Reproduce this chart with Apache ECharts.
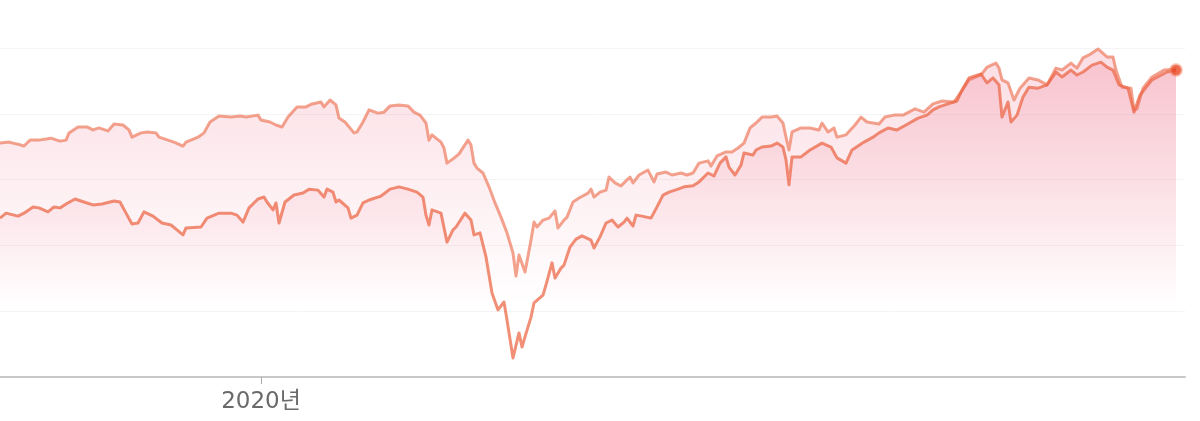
<!DOCTYPE html>
<html>
<head>
<meta charset="utf-8">
<script src="https://cdn.jsdelivr.net/npm/echarts@6/dist/echarts.min.js"></script>
<style>
html,body{margin:0;padding:0;background:#fff;}
#chart{width:1200px;height:421px;}
</style>
</head>
<body>
<div id="chart"></div>
<script>
// day offsets from 2019-10-06 and index values
const startDate = [2019, 9, 6];
const spanDays = 395;
const yearTickLabel = '2020년';

const upperDays = [0,3,7,8,10,13,17,20,22,23,26,29,31,33,36,38,41,43,44,47,49,52,53,56,58,61,62,66,68,70,73,77,80,82,86,87,90,92,94,96,99,102,104,107,108,110,112,113,115,118,119,121,123,126,128,130,133,136,138,140,142,143,144,147,148,149,151,153,156,157,158,159,161,163,165,167,169,171,172,173,175,177,178,179,181,183,185,186,188,189,191,193,196,197,198,200,202,203,205,207,209,210,211,213,216,218,219,222,224,227,229,231,233,236,237,239,242,244,246,248,250,252,254,257,259,261,262,263,264,267,270,273,274,276,278,279,282,285,287,289,293,295,298,301,305,308,311,314,318,321,323,327,329,332,333,334,336,338,340,343,346,349,352,354,357,359,361,363,366,369,371,372,374,377,378,379,381,384,388,392];
const upperValues = [71.1,71.4,70.5,70.2,72.0,72.0,72.6,71.7,72.0,74.2,76.0,76.0,75.1,75.7,74.8,76.9,76.6,75.1,72.9,74.2,74.5,74.2,72.9,72.0,71.4,70.2,71.4,72.9,74.2,77.5,79.3,79.0,79.3,79.0,79.6,78.1,77.5,76.6,76.0,79.0,82.1,82.1,83.0,83.6,82.1,84.2,82.7,78.7,77.5,74.2,74.5,77.5,81.2,80.2,80.5,82.4,82.7,82.4,80.5,79.6,77.2,72.0,73.6,71.4,69.6,65.0,66.3,67.8,72.0,70.5,65.0,63.5,62.0,57.8,52.9,48.6,43.8,37.7,30.7,37.1,31.9,41.6,47.1,45.6,47.7,48.3,50.5,45.3,47.7,48.6,53.2,54.4,55.9,57.1,54.7,56.2,56.8,60.8,59.0,58.1,59.9,60.8,59.0,61.4,62.9,59.3,61.7,62.3,61.4,62.0,61.4,62.0,65.0,65.7,64.1,67.2,68.4,68.4,69.6,71.1,75.7,77.2,79.0,79.0,79.3,77.2,72.9,69.0,74.5,75.7,75.7,75.1,77.2,74.5,75.7,72.9,73.6,76.6,79.0,77.5,76.9,79.0,79.6,79.6,81.5,80.5,83.0,83.9,83.6,87.5,90.3,91.8,94.2,95.4,93.9,90.3,89.4,84.2,87.8,90.9,90.3,88.8,93.9,93.3,95.4,93.9,97.0,97.9,99.7,97.3,97.3,93.3,88.1,87.8,81.2,81.5,87.8,91.2,93.3,93.6];

const lowerDays = [0,2,6,8,11,13,16,18,20,22,25,28,31,34,38,40,42,44,46,48,51,54,57,59,61,62,67,69,73,77,79,81,83,86,88,89,91,92,93,95,98,101,103,106,108,109,111,112,113,116,117,119,121,123,127,130,133,136,139,141,142,143,144,147,149,151,152,155,157,158,160,162,164,166,168,169,171,173,174,175,177,178,181,182,184,185,187,188,190,192,194,197,198,200,202,204,206,208,209,211,212,214,217,219,221,223,226,228,231,233,236,238,240,242,243,245,247,248,251,252,254,257,259,261,262,263,264,267,270,274,277,279,282,284,288,291,293,296,299,302,306,309,311,313,317,319,321,323,327,329,331,333,334,336,337,339,341,343,346,349,352,354,357,359,361,364,367,369,371,373,376,378,380,384,389,392];
const lowerValues = [48.3,49.8,48.9,49.8,51.7,51.4,50.2,51.7,51.4,52.6,54.1,53.2,52.3,52.6,53.5,53.2,49.8,46.5,46.8,50.2,48.9,46.8,46.2,44.7,43.2,45.3,45.6,48.3,49.8,49.8,49.2,47.1,51.4,54.1,54.7,53.2,50.8,52.9,46.8,53.2,55.3,55.9,57.1,56.8,54.7,57.1,56.2,53.2,53.8,51.4,48.3,49.2,52.9,53.8,55.0,57.1,57.8,57.1,56.2,54.7,49.2,46.2,50.8,49.8,41.0,44.7,45.6,49.8,47.7,43.2,43.8,36.5,25.5,20.4,22.8,17.3,5.8,13.4,9.1,12.2,18.2,22.5,24.9,28.0,34.7,30.1,33.1,34.0,39.5,41.9,42.9,41.6,39.2,42.6,46.8,47.7,45.6,47.1,48.3,45.9,49.2,48.9,48.3,51.7,55.3,56.2,57.1,57.8,58.1,59.3,62.0,61.1,65.0,66.9,63.8,61.4,64.4,68.1,67.5,69.0,69.9,70.2,71.1,69.9,66.0,58.4,66.9,66.9,69.0,71.1,69.9,66.6,65.0,69.0,71.4,72.9,74.2,75.7,75.1,76.6,78.7,79.6,81.2,82.1,83.3,83.9,87.8,90.9,92.1,89.4,90.9,88.8,79.0,83.6,77.5,79.6,85.1,88.1,87.8,88.8,92.7,91.2,93.3,91.8,92.7,94.8,95.7,94.2,93.3,88.8,87.8,80.5,85.7,90.3,92.7,93.3];

function dayTs(d) { return +new Date(startDate[0], startDate[1], startDate[2] + d); }
function pairs(days, vals) { return days.map((d, i) => [dayTs(d), vals[i]]); }

const yearTick = +new Date(2020, 0, 1);

function areaGrad() {
  return new echarts.graphic.LinearGradient(0, 0, 0, 1, [
    { offset: 0, color: 'rgba(236,95,125,0.30)' },
    { offset: 0.78, color: 'rgba(236,95,125,0)' }
  ]);
}

const chart = echarts.init(document.getElementById('chart'), null, { renderer: 'canvas' });
chart.setOption({
  animation: false,
  backgroundColor: '#fff',
  grid: { left: 0, right: 15, top: 48, bottom: 44 },
  xAxis: {
    type: 'value',
    min: dayTs(0),
    max: dayTs(spanDays),
    axisLine: { show: true, onZero: false, lineStyle: { color: '#c8c8c8', width: 2 } },
    axisTick: { show: true, customValues: [yearTick], length: 7, lineStyle: { color: '#aaa', width: 1 } },
    axisLabel: {
      show: true, customValues: [yearTick], margin: 14,
      formatter: function () { return yearTickLabel; },
      color: '#6a6a6a', fontSize: 23, fontFamily: 'DejaVu Sans, Noto Sans CJK KR'
    },
    splitLine: { show: false }
  },
  yAxis: {
    type: 'value',
    min: 0, max: 100, interval: 20,
    axisLine: { show: false },
    axisTick: { show: false },
    axisLabel: { show: false },
    splitLine: { show: true, lineStyle: { color: '#f4f4f4', width: 1 } }
  },
  series: [
    {
      type: 'line', data: pairs(upperDays, upperValues),
      showSymbol: false, symbol: 'none',
      lineStyle: { color: 'rgba(238,118,88,0.68)', width: 3, join: 'round' },
      areaStyle: { color: areaGrad() }, z: 2
    },
    {
      type: 'line', data: pairs(lowerDays, lowerValues),
      showSymbol: false, symbol: 'none',
      lineStyle: { color: 'rgba(236,100,66,0.72)', width: 3, join: 'round' },
      areaStyle: { color: areaGrad() }, z: 3
    },
    {
      type: 'scatter',
      data: [[dayTs(lowerDays[lowerDays.length - 1]), lowerValues[lowerValues.length - 1]]],
      symbol: 'circle', symbolSize: 11,
      itemStyle: { color: '#e8461e', borderColor: 'rgba(242,140,110,0.55)', borderWidth: 3 },
      z: 5
    }
  ]
});
</script>
</body>
</html>
